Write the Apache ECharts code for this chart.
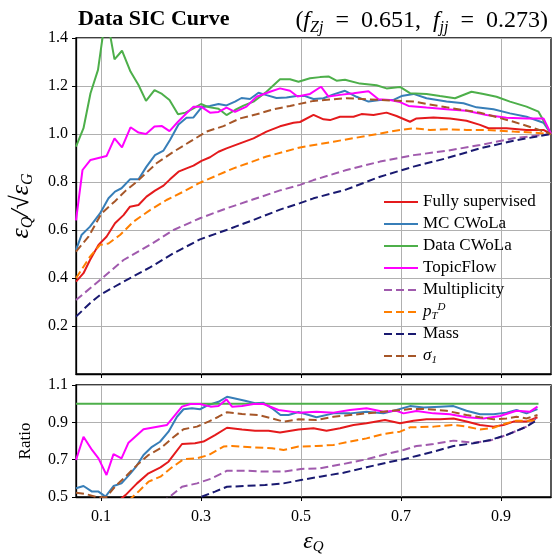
<!DOCTYPE html>
<html>
<head>
<meta charset="utf-8">
<script src="https://cdn.jsdelivr.net/npm/echarts@6.0.0/dist/echarts.min.js"></script>
<style>
  html, body { margin: 0; padding: 0; background: #fff; }
  #chart { width: 553px; height: 554px; }
</style>
</head>
<body>
<div id="chart"></div>
<script>
// values, [epsilon_Q, value]
var fullySup = [[0.05,0.385],[0.065,0.42],[0.078,0.475],[0.095,0.538],[0.111,0.572],[0.128,0.628],[0.145,0.662],[0.158,0.697],[0.175,0.704],[0.191,0.739],[0.208,0.764],[0.225,0.785],[0.238,0.811],[0.255,0.843],[0.271,0.857],[0.285,0.868],[0.301,0.888],[0.318,0.903],[0.335,0.926],[0.351,0.94],[0.378,0.961],[0.405,0.982],[0.431,1.01],[0.458,1.032],[0.485,1.047],[0.498,1.05],[0.525,1.08],[0.545,1.061],[0.558,1.058],[0.578,1.072],[0.605,1.072],[0.621,1.083],[0.645,1.079],[0.671,1.089],[0.691,1.075],[0.718,1.051],[0.731,1.065],[0.765,1.069],[0.798,1.065],[0.831,1.055],[0.858,1.038],[0.875,1.024],[0.911,1.024],[0.951,1.017],[0.985,1.017],[1.0,1.0]]
var mcCwola = [[0.05,0.517],[0.061,0.579],[0.078,0.614],[0.098,0.669],[0.115,0.732],[0.128,0.76],[0.141,0.774],[0.158,0.811],[0.175,0.811],[0.191,0.864],[0.208,0.912],[0.225,0.931],[0.238,0.975],[0.255,1.04],[0.271,1.068],[0.285,1.069],[0.301,1.111],[0.318,1.117],[0.335,1.125],[0.351,1.119],[0.368,1.135],[0.381,1.15],[0.398,1.146],[0.415,1.172],[0.431,1.162],[0.451,1.15],[0.471,1.152],[0.491,1.158],[0.508,1.158],[0.525,1.146],[0.545,1.149],[0.565,1.165],[0.588,1.18],[0.611,1.155],[0.635,1.135],[0.658,1.142],[0.685,1.142],[0.701,1.158],[0.725,1.167],[0.751,1.149],[0.791,1.135],[0.825,1.128],[0.851,1.111],[0.885,1.103],[0.918,1.086],[0.951,1.072],[0.985,1.047],[1.0,1.0]]
var dataCwola = [[0.05,0.947],[0.065,1.024],[0.079,1.17],[0.094,1.267],[0.105,1.43],[0.115,1.45],[0.127,1.311],[0.142,1.347],[0.159,1.26],[0.175,1.204],[0.19,1.138],[0.207,1.183],[0.222,1.167],[0.237,1.142],[0.254,1.082],[0.269,1.089],[0.285,1.107],[0.3,1.125],[0.315,1.112],[0.335,1.105],[0.351,1.079],[0.368,1.1],[0.385,1.118],[0.405,1.135],[0.431,1.176],[0.458,1.228],[0.478,1.228],[0.495,1.218],[0.518,1.232],[0.538,1.237],[0.555,1.24],[0.571,1.222],[0.588,1.226],[0.618,1.21],[0.651,1.203],[0.671,1.19],[0.698,1.196],[0.718,1.17],[0.751,1.167],[0.778,1.158],[0.808,1.149],[0.841,1.176],[0.865,1.167],[0.891,1.155],[0.918,1.135],[0.951,1.114],[0.975,1.093],[1.0,1.0]]
var topicFlow = [[0.05,0.64],[0.063,0.85],[0.079,0.892],[0.095,0.9],[0.111,0.908],[0.127,0.982],[0.142,0.944],[0.159,1.028],[0.175,1.006],[0.19,1.0],[0.207,1.031],[0.222,1.033],[0.237,1.012],[0.254,1.051],[0.269,1.082],[0.285,1.114],[0.3,1.114],[0.318,1.089],[0.335,1.092],[0.351,1.11],[0.368,1.092],[0.391,1.114],[0.411,1.155],[0.438,1.176],[0.458,1.19],[0.478,1.18],[0.493,1.156],[0.518,1.167],[0.54,1.197],[0.555,1.156],[0.578,1.163],[0.605,1.17],[0.635,1.178],[0.655,1.145],[0.678,1.142],[0.698,1.133],[0.715,1.117],[0.751,1.11],[0.791,1.103],[0.831,1.097],[0.871,1.079],[0.911,1.068],[0.951,1.065],[0.985,1.065],[1.0,1.0]]
var multiplicity = [[0.05,0.308],[0.098,0.392],[0.145,0.475],[0.198,0.538],[0.245,0.6],[0.298,0.649],[0.351,0.69],[0.405,0.728],[0.458,0.765],[0.498,0.788],[0.525,0.808],[0.591,0.85],[0.658,0.885],[0.725,0.912],[0.791,0.93],[0.858,0.954],[0.925,0.982],[1.0,1.0]]
var ptD = [[0.05,0.399],[0.078,0.489],[0.098,0.538],[0.115,0.544],[0.138,0.579],[0.165,0.635],[0.198,0.683],[0.231,0.725],[0.265,0.76],[0.298,0.797],[0.365,0.857],[0.431,0.906],[0.498,0.944],[0.565,0.968],[0.631,0.992],[0.698,1.017],[0.725,1.024],[0.758,1.017],[0.791,1.02],[0.831,1.017],[0.871,1.017],[0.925,1.01],[0.965,1.006],[1.0,1.0]]
var mass = [[0.05,0.239],[0.078,0.295],[0.098,0.329],[0.145,0.385],[0.198,0.444],[0.245,0.503],[0.298,0.561],[0.351,0.6],[0.405,0.642],[0.458,0.685],[0.498,0.712],[0.525,0.732],[0.591,0.769],[0.658,0.822],[0.725,0.864],[0.791,0.899],[0.858,0.94],[0.925,0.972],[1.0,1.0]]
var sigma1 = [[0.05,0.51],[0.075,0.572],[0.101,0.669],[0.128,0.72],[0.15,0.765],[0.171,0.8],[0.211,0.878],[0.245,0.926],[0.278,0.968],[0.311,1.01],[0.345,1.033],[0.378,1.065],[0.411,1.082],[0.445,1.103],[0.478,1.117],[0.525,1.138],[0.591,1.149],[0.658,1.142],[0.725,1.135],[0.791,1.111],[0.858,1.089],[0.925,1.051],[0.965,1.025],[1.0,1.0]]

// ratio panel (relative to Data CWoLa)
var ratioFully = [[0.135,0.48],[0.149,0.51],[0.172,0.573],[0.195,0.627],[0.219,0.659],[0.235,0.689],[0.262,0.784],[0.288,0.788],[0.305,0.797],[0.328,0.832],[0.352,0.871],[0.382,0.862],[0.408,0.855],[0.435,0.855],[0.458,0.845],[0.495,0.862],[0.525,0.868],[0.551,0.855],[0.578,0.868],[0.605,0.886],[0.631,0.895],[0.668,0.913],[0.698,0.895],[0.725,0.909],[0.751,0.916],[0.778,0.916],[0.805,0.921],[0.831,0.904],[0.858,0.886],[0.885,0.877],[0.905,0.886],[0.925,0.904],[0.951,0.904],[0.973,0.927]]
var ratioMc = [[0.05,0.547],[0.065,0.559],[0.082,0.529],[0.095,0.529],[0.109,0.502],[0.125,0.559],[0.141,0.573],[0.159,0.627],[0.171,0.666],[0.185,0.725],[0.202,0.769],[0.218,0.796],[0.235,0.85],[0.252,0.93],[0.265,0.97],[0.282,0.975],[0.298,0.97],[0.315,0.993],[0.335,1.01],[0.352,1.037],[0.368,1.028],[0.388,1.016],[0.408,1.002],[0.425,1.005],[0.442,0.975],[0.459,0.939],[0.475,0.939],[0.495,0.955],[0.531,0.927],[0.565,0.948],[0.598,0.948],[0.631,0.957],[0.665,0.948],[0.691,0.966],[0.718,0.987],[0.745,0.98],[0.778,0.984],[0.805,0.987],[0.831,0.962],[0.858,0.943],[0.885,0.943],[0.911,0.952],[0.931,0.966],[0.951,0.948],[0.973,0.971]]
var ratioData = [[0.05,1.0],[0.975,1.0]]
var ratioTopic = [[0.05,0.698],[0.065,0.823],[0.082,0.752],[0.095,0.707],[0.111,0.618],[0.125,0.73],[0.141,0.707],[0.155,0.791],[0.185,0.863],[0.232,0.886],[0.262,0.984],[0.279,0.998],[0.298,0.998],[0.319,0.984],[0.335,0.988],[0.351,1.023],[0.362,0.984],[0.382,0.988],[0.405,0.998],[0.425,0.998],[0.455,0.966],[0.495,0.952],[0.531,0.957],[0.565,0.952],[0.598,0.966],[0.631,0.975],[0.665,0.957],[0.691,0.962],[0.705,0.948],[0.731,0.961],[0.765,0.948],[0.798,0.943],[0.831,0.927],[0.865,0.921],[0.898,0.934],[0.931,0.962],[0.958,0.957],[0.973,0.984]]
var ratioMult = [[0.22,0.47],[0.237,0.5],[0.262,0.555],[0.292,0.573],[0.322,0.6],[0.352,0.641],[0.388,0.641],[0.428,0.636],[0.465,0.636],[0.5,0.65],[0.538,0.654],[0.585,0.677],[0.631,0.702],[0.671,0.73],[0.705,0.752],[0.731,0.773],[0.765,0.784],[0.805,0.802],[0.845,0.791],[0.878,0.802],[0.911,0.832],[0.951,0.877],[0.973,0.927]]
var ratioPtD = [[0.155,0.48],[0.175,0.529],[0.195,0.582],[0.219,0.609],[0.242,0.659],[0.265,0.702],[0.292,0.707],[0.315,0.725],[0.345,0.77],[0.362,0.773],[0.402,0.766],[0.442,0.761],[0.465,0.752],[0.495,0.77],[0.531,0.773],[0.565,0.779],[0.598,0.797],[0.631,0.814],[0.665,0.838],[0.698,0.85],[0.718,0.873],[0.765,0.877],[0.805,0.886],[0.831,0.877],[0.858,0.862],[0.885,0.871],[0.911,0.895],[0.931,0.909],[0.965,0.909],[0.973,0.921]]
var ratioMass = [[0.28,0.47],[0.3,0.5],[0.328,0.529],[0.352,0.555],[0.388,0.559],[0.428,0.564],[0.465,0.573],[0.5,0.591],[0.538,0.609],[0.585,0.63],[0.631,0.659],[0.671,0.684],[0.705,0.702],[0.731,0.72],[0.765,0.743],[0.805,0.773],[0.845,0.788],[0.878,0.805],[0.911,0.832],[0.951,0.877],[0.973,0.913]]
var ratioSigma = [[0.05,0.523],[0.069,0.516],[0.095,0.497],[0.111,0.5],[0.129,0.559],[0.149,0.609],[0.172,0.671],[0.195,0.725],[0.219,0.761],[0.242,0.814],[0.265,0.863],[0.292,0.877],[0.315,0.904],[0.335,0.93],[0.352,0.954],[0.382,0.945],[0.415,0.939],[0.442,0.921],[0.465,0.904],[0.495,0.916],[0.531,0.913],[0.565,0.93],[0.598,0.939],[0.631,0.948],[0.665,0.957],[0.698,0.966],[0.718,0.971],[0.751,0.971],[0.791,0.962],[0.831,0.939],[0.858,0.927],[0.885,0.916],[0.911,0.921],[0.931,0.93],[0.951,0.921],[0.973,0.939]]

var xTicks = [0.1, 0.3, 0.5, 0.7, 0.9]
var ratioTicks = [0.5, 0.7, 0.9, 1.1]
var names = ['Fully supervised', 'MC CWoLa', 'Data CWoLa', 'TopicFlow', 'Multiplicity', 'pTD', 'Mass', 'sigma1']
var colors = ['#e41a1c', '#377eb8', '#4daf4a', '#ff00ff', '#a05aad', '#ff7f00', '#191970', '#a65628']
var dashed = [false, false, false, false, true, true, true, true]

var serif = 'Liberation Serif'
var mainData = [fullySup, mcCwola, dataCwola, topicFlow, multiplicity, ptD, mass, sigma1]
var ratioSets = [ratioFully, ratioMc, ratioData, ratioTopic, ratioMult, ratioPtD, ratioMass, ratioSigma]

function makeLine(i, data, panel) {
  return {
    name: names[i],
    type: 'line',
    xAxisIndex: panel,
    yAxisIndex: panel,
    data: data,
    showSymbol: false,
    symbol: 'none',
    animation: false,
    clip: true,
    lineStyle: {
      color: colors[i],
      width: 2,
      type: dashed[i] ? [8, 4] : 'solid'
    },
    itemStyle: { color: colors[i] }
  }
}

var series = []
mainData.forEach(function(d, i) { series.push(makeLine(i, d, 0)) })
ratioSets.forEach(function(d, i) { series.push(makeLine(i, d, 1)) })

var legendText = {
  'Fully supervised': 'Fully supervised',
  'MC CWoLa': 'MC CWoLa',
  'Data CWoLa': 'Data CWoLa',
  'TopicFlow': 'TopicFlow',
  'Multiplicity': 'Multiplicity',
  'pTD': '{it|p}{sub|T}{sup|D}',
  'Mass': 'Mass',
  'sigma1': '{it|σ}{sub|1}'
}

function xAxisCfg(idx, showLabels) {
  return {
    type: 'value',
    gridIndex: idx,
    min: 0.05,
    max: 1.0,
    name: showLabels ? '{e|ε}{s|Q}' : '',
    nameLocation: 'middle',
    nameGap: 32,
    nameTextStyle: {
      rich: {
        e: { fontFamily: serif, fontStyle: 'italic', fontSize: 24, color: '#000', lineHeight: 26 },
        s: { fontFamily: serif, fontStyle: 'italic', fontSize: 15, color: '#000', verticalAlign: 'bottom', lineHeight: 14 }
      }
    },
    axisLine: { onZero: false, lineStyle: { color: '#000', width: 1.3 } },
    axisTick: { show: true, length: 4, customValues: xTicks, lineStyle: { color: '#000', width: 1 } },
    axisLabel: {
      show: showLabels,
      customValues: xTicks,
      margin: 12,
      color: '#000',
      fontFamily: serif,
      fontSize: 16,
      formatter: function(v) { return v.toFixed(1) }
    },
    splitLine: { show: true, lineStyle: { color: '#b0b0b0', width: 1 } }
  }
}

var chart = echarts.init(document.getElementById('chart'), null, { renderer: 'canvas' })

chart.setOption({
  backgroundColor: '#fff',
  animation: false,
  title: [{
    text: 'Data SIC Curve',
    left: 73,
    top: 3,
    textStyle: { fontFamily: serif, fontWeight: 'bold', fontSize: 22, color: '#000' }
  }, {
    text: '{n|(}{i|f}{s|Zj}{n|  =  0.651,  }{i|f}{s|jj}{n|  =  0.273)}',
    right: 0,
    top: 1,
    textStyle: {
      fontWeight: 'normal',
      rich: {
        n: { fontFamily: serif, fontWeight: 'normal', fontSize: 24, color: '#000', lineHeight: 30 },
        i: { fontFamily: serif, fontWeight: 'normal', fontStyle: 'italic', fontSize: 24, color: '#000', lineHeight: 30 },
        s: { fontFamily: serif, fontWeight: 'normal', fontStyle: 'italic', fontSize: 16, color: '#000', verticalAlign: 'bottom', lineHeight: 18 }
      }
    }
  }],
  legend: {
    data: names,
    orient: 'vertical',
    left: 378,
    top: 187,
    itemWidth: 34,
    itemHeight: 14,
    itemGap: 2,
    selectedMode: false,
    itemStyle: { opacity: 0, borderWidth: 0 },
    formatter: function(name) { return legendText[name] },
    textStyle: {
      fontFamily: serif,
      fontSize: 17,
      color: '#000',
      lineHeight: 20,
      rich: {
        it: { fontFamily: serif, fontStyle: 'italic', fontSize: 17, color: '#000', lineHeight: 20 },
        sub: { fontFamily: serif, fontStyle: 'italic', fontSize: 11, color: '#000', verticalAlign: 'bottom', lineHeight: 11 },
        sup: { fontFamily: serif, fontStyle: 'italic', fontSize: 11, color: '#000', verticalAlign: 'top', lineHeight: 11 }
      }
    }
  },
  grid: [
    { left: 76, top: 38, width: 475, height: 336, outerBoundsMode: 'none', show: true, borderColor: '#000', borderWidth: 1.3, backgroundColor: 'transparent' },
    { left: 76, top: 385, width: 475, height: 112, outerBoundsMode: 'none', show: true, borderColor: '#000', borderWidth: 1.3, backgroundColor: 'transparent' }
  ],
  xAxis: [xAxisCfg(0, false), xAxisCfg(1, true)],
  yAxis: [{
    type: 'value',
    gridIndex: 0,
    min: 0,
    max: 1.4,
    interval: 0.2,
    name: '{e|ε}{s|Q}{e|/√}{e|ε}{s|G}',
    nameLocation: 'middle',
    nameGap: 40,
    nameTextStyle: {
      rich: {
        e: { fontFamily: serif, fontStyle: 'italic', fontSize: 26, color: '#000', lineHeight: 30 },
        s: { fontFamily: serif, fontStyle: 'italic', fontSize: 16, color: '#000', verticalAlign: 'bottom', lineHeight: 15 }
      }
    },
    axisLine: { show: true, lineStyle: { color: '#000', width: 1.3 } },
    axisTick: { show: true, length: 4, lineStyle: { color: '#000' } },
    axisLabel: {
      showMinLabel: false,
      margin: 8,
      color: '#000',
      fontFamily: serif,
      fontSize: 16,
      formatter: function(v) { return v.toFixed(1) }
    },
    splitLine: { show: true, lineStyle: { color: '#b0b0b0', width: 1 } }
  }, {
    type: 'value',
    gridIndex: 1,
    min: 0.5,
    max: 1.1,
    name: 'Ratio',
    nameLocation: 'middle',
    nameGap: 42,
    nameTextStyle: { fontFamily: serif, fontSize: 17, color: '#000' },
    axisLine: { show: true, lineStyle: { color: '#000', width: 1.3 } },
    axisTick: { show: true, length: 4, customValues: ratioTicks, lineStyle: { color: '#000' } },
    axisLabel: {
      customValues: ratioTicks,
      margin: 8,
      color: '#000',
      fontFamily: serif,
      fontSize: 16,
      formatter: function(v) { return v.toFixed(1) }
    },
    splitLine: { show: true, lineStyle: { color: '#b0b0b0', width: 1 } }
  }],
  series: series
})
</script>
</body>
</html>
